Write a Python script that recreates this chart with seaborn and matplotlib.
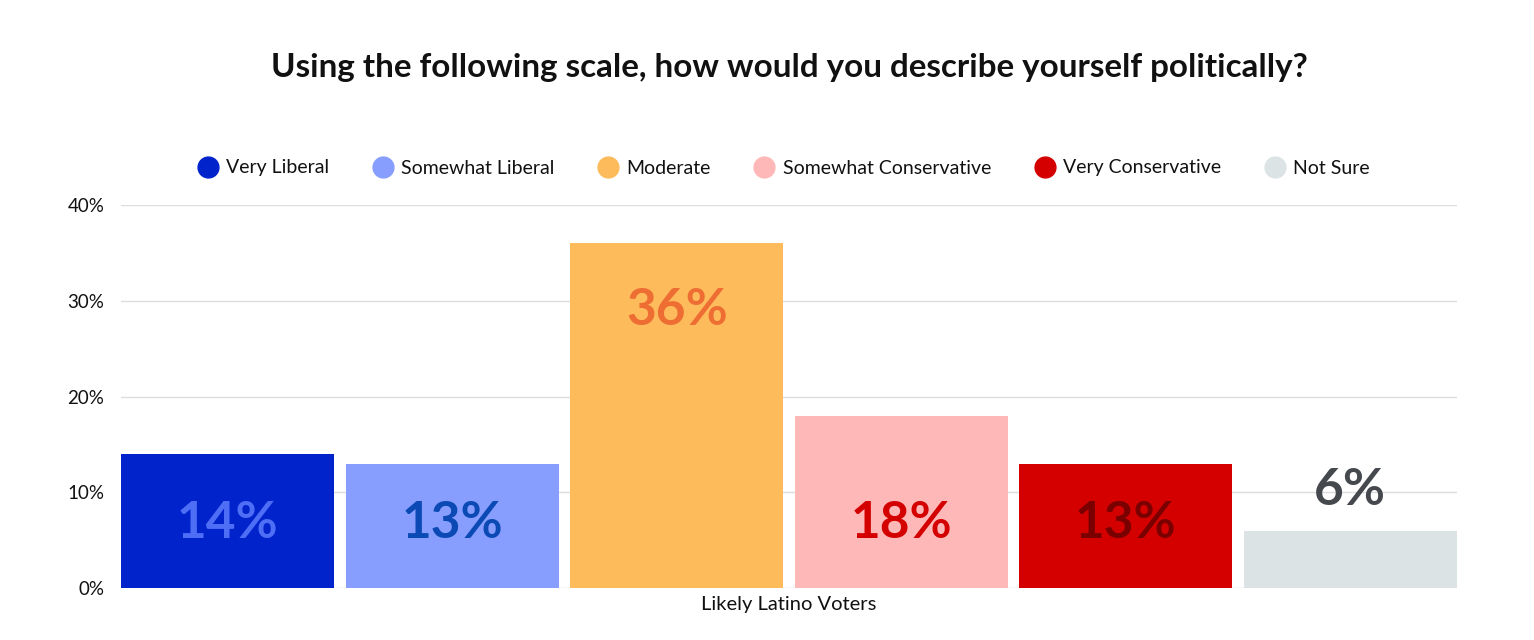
import matplotlib
matplotlib.use("Agg")
import matplotlib.pyplot as plt
import seaborn as sns
import pandas as pd
from matplotlib.lines import Line2D

categories = ["Very Liberal", "Somewhat Liberal", "Moderate",
              "Somewhat Conservative", "Very Conservative", "Not Sure"]
values = [14, 13, 36, 18, 13, 6]
group = "Likely Latino Voters"
bar_colors = ["#0023cc", "#879efe", "#fdbb5c", "#ffb8b8", "#d40000", "#dbe3e4"]
label_colors = ["#4f6ef6", "#0b4ab5", "#ee6d33", "#d40000", "#7a0000", "#45484d"]
yticks = [0, 10, 20, 30, 40]
ytick_labels = ["0%", "10%", "20%", "30%", "40%"]
title = "Using the following scale, how would you describe yourself politically?"

sns.set_theme(style="white")
plt.rcParams["font.family"] = ["Lato", "DejaVu Sans"]

df = pd.DataFrame({"group": [group] * len(categories),
                   "category": categories, "value": values})

fig = plt.figure(figsize=(15.34, 6.4), dpi=100)
ax = fig.add_axes([121 / 1534, 52 / 640, (1457 - 121) / 1534, (588 - 205) / 640])

sns.barplot(data=df, x="group", y="value", hue="category", hue_order=categories,
            palette=bar_colors, width=1.0, gap=0.05, saturation=1, legend=False,
            ax=ax, zorder=3, linewidth=0)

patches = [p for p in ax.patches]
left = min(p.get_x() for p in patches)
right = max(p.get_x() + p.get_width() for p in patches)
ax.set_xlim(left, right)
ax.set_ylim(0, 40)

ax.set_yticks(yticks)
ax.set_yticklabels(ytick_labels, fontsize=13.5, color="#111111")
ax.tick_params(axis="y", length=0, pad=12)
ax.tick_params(axis="x", length=0, pad=6, labelsize=14.5, labelcolor="#111111")
ax.set_xlabel("")
ax.set_ylabel("")
ax.grid(axis="y", color="#dddddd", linewidth=1, zorder=0)
for s in ax.spines.values():
    s.set_visible(False)

# value labels
for p, v, c in zip(sorted(patches, key=lambda q: q.get_x()), values, label_colors):
    cx = p.get_x() + p.get_width() / 2
    if v < 10:
        ly = v + 4.2
    elif v < 20:
        ly = 6.7
    else:
        ly = v - 7.0
    ax.text(cx, ly, f"{v}%", ha="center", va="center", fontsize=37,
            fontweight="bold", color=c, zorder=5)

fig.text((121 + 1457) / 2 / 1534, 1 - 67 / 640, title, ha="center", va="center",
         fontsize=23.9, fontweight="bold", color="#111111")

handles = [Line2D([0], [0], marker="o", linestyle="", markersize=15,
                  markerfacecolor=c, markeredgecolor=c) for c in bar_colors]
fig.legend(handles, categories, loc="center", bbox_to_anchor=(783 / 1534, 1 - 168 / 640),
           ncol=6, frameon=False, fontsize=14, handletextpad=0.35,
           columnspacing=2.15, handlelength=1.2, labelcolor="#111111")

fig.savefig("out.png", dpi=100)
